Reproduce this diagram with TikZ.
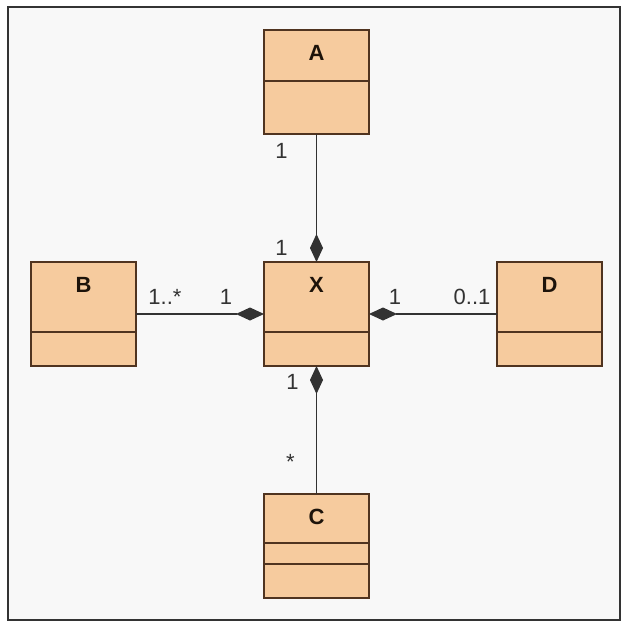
\documentclass[tikz,border=0pt]{standalone}
\usepackage{fontspec}
\setmainfont{Liberation Sans}
\usepackage{tikz}
\usetikzlibrary{positioning}
\usetikzlibrary{arrows.meta}

\definecolor{clsfill}{RGB}{246,203,158}
\definecolor{clsdraw}{RGB}{80,52,32}
\definecolor{linkcol}{RGB}{50,50,50}
\definecolor{paper}{RGB}{248,248,248}

\tikzset{
  cls/.style={draw=clsdraw, line width=1.5pt, fill=clsfill, minimum width=105pt,
    minimum height=104pt, inner sep=0pt, outer sep=0pt},
  clsname/.style={anchor=center, yshift=-23pt, text=black!85!brown,
    font=\bfseries\fontsize{22}{22}\selectfont},
  mult/.style={font=\fontsize{22}{22}\selectfont, text=black!80, inner sep=0pt},
  comp/.style={-{Diamond[length=28pt,width=13pt]}, draw=linkcol, line width=1.1pt},
}

\newcommand{\compline}[2]{%
  \draw[clsdraw, line width=1.5pt] ([yshift=-#2]#1.north west) -- ([yshift=-#2]#1.north east);}

\begin{document}
\begin{tikzpicture}[node distance=128pt]

    \useasboundingbox (0,0) rectangle (625pt,-627pt);
    \fill[white] (0,0) rectangle (625pt,-627pt);
    \draw[fill=paper, draw=black!80, line width=1.5pt] (8pt,-7pt) rectangle (620pt,-620pt);

    % Define nodes
    \node[cls, label={[clsname, name=Xn]north:X}] (X) at (316.5pt,-314pt) {};
    \node[cls, above=of X, label={[clsname, name=An]north:A}] (A) {};
    \node[cls, left=of X,  label={[clsname, name=Bn]north:B}] (B) {};
    \node[cls, right=of X, label={[clsname, name=Dn]north:D}] (D) {};
    \node[cls, below=of X, label={[clsname, name=Cn]north:C}] (C) {};

    % Compartments
    \compline{A}{51pt}
    \compline{X}{70pt}
    \compline{B}{70pt}
    \compline{D}{70pt}
    \compline{C}{49pt}
    \compline{C}{70pt}

    % Connect the nodes
    \draw[comp] (A) -- (X); %
    \draw[comp] (B) -- (X); %
    \draw[comp] (D) -- (X); %
    \draw[comp] (C) -- (X); %

    % Multiplicities
    \node[mult] (mA)  at ([xshift=-35pt,yshift=-17pt]A.south) {1};
    \node[mult] (mXa) at ([xshift=-35pt,yshift=14pt]X.north) {1};
    \node[mult] (mB)  at ([xshift=29pt,yshift=17pt]B.east) {1..*};
    \node[mult] (mXb) at ([xshift=-38pt,yshift=17pt]X.west) {1};
    \node[mult] (mXd) at ([xshift=26pt,yshift=17pt]X.east) {1};
    \node[mult] (mD)  at ([xshift=-25pt,yshift=17pt]D.west) {0..1};
    \node[mult] (mXc) at ([xshift=-24pt,yshift=-16pt]X.south) {1};
    \node[mult] (mC)  at ([xshift=-26pt,yshift=32pt]C.north) {*};
  \end{tikzpicture}
\end{document}
